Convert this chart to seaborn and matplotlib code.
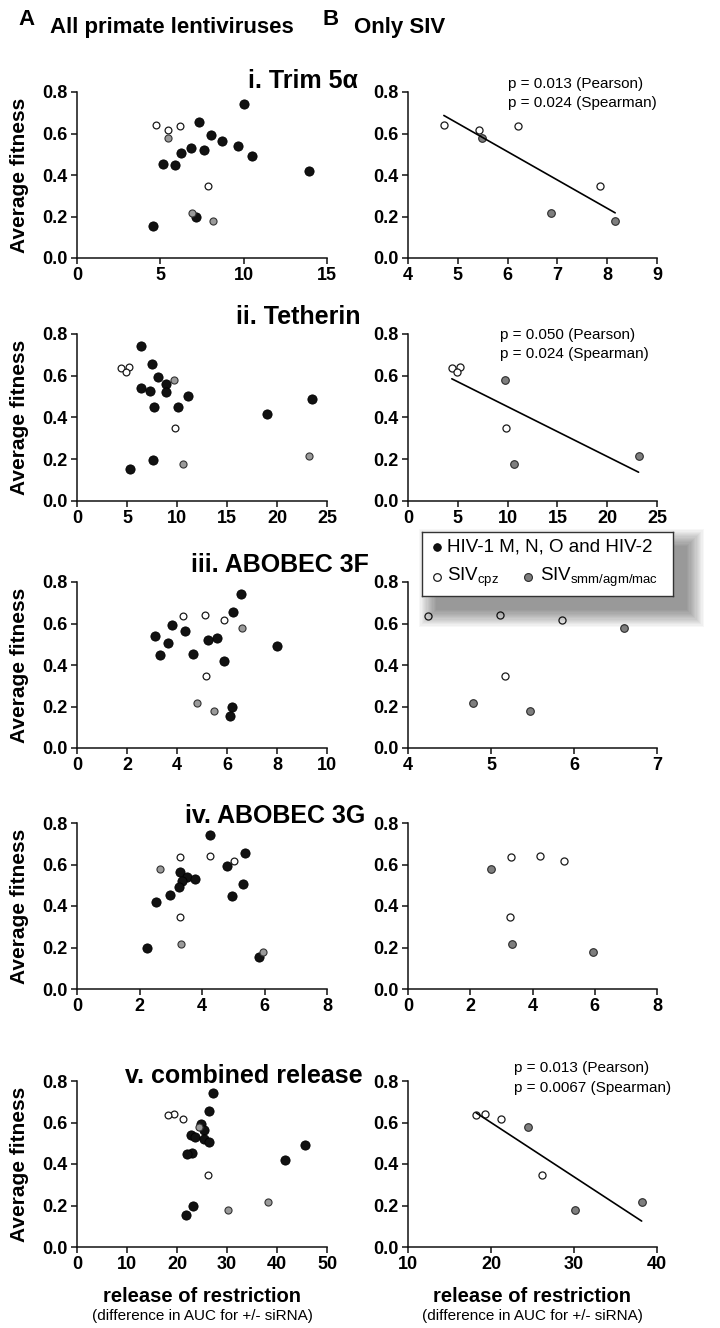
import numpy as np
import pandas as pd
import seaborn as sns
import matplotlib.pyplot as plt
from matplotlib.patches import Rectangle
from matplotlib import font_manager

# Average fitness of each virus (same viruses in every panel), sorted high -> low
hiv_fitness = [0.744, 0.656, 0.595, 0.562, 0.542, 0.528, 0.521, 0.505, 0.491, 0.451, 0.448, 0.419, 0.198, 0.152]
cpz_fitness = [0.641, 0.637, 0.616, 0.349]
smm_fitness = [0.578, 0.217, 0.177]

# Release of restriction per assay, same order as the fitness lists
trim_hiv = [10.02, 7.34, 8.06, 8.72, 9.68, 6.82, 7.60, 6.26, 10.48, 5.14, 5.90, 13.92, 7.16, 4.56]
trim_cpz = [4.72, 6.20, 5.43, 7.85]
trim_smm = [5.48, 6.88, 8.16]

teth_hiv = [6.38, 7.45, 8.05, 8.86, 6.38, 7.32, 8.89, 11.06, 23.53, 7.72, 10.06, 19.02, 7.59, 5.31]
teth_cpz = [5.20, 4.40, 4.90, 9.84]
teth_smm = [9.70, 23.15, 10.60]

a3f_hiv = [6.57, 6.25, 3.80, 4.33, 3.12, 5.60, 5.23, 3.64, 8.01, 4.63, 3.31, 5.86, 6.18, 6.12]
a3f_cpz = [5.11, 4.24, 5.86, 5.17]
a3f_smm = [6.60, 4.78, 5.47]

a3g_hiv = [4.24, 5.36, 4.79, 3.29, 3.52, 3.76, 3.36, 5.32, 3.26, 2.96, 4.96, 2.53, 2.24, 5.82]
a3g_cpz = [4.25, 3.30, 5.02, 3.28]
a3g_smm = [2.66, 3.34, 5.94]

comb_hiv = [27.2, 26.4, 24.8, 25.4, 22.7, 23.6, 25.3, 26.4, 45.5, 22.9, 21.9, 41.6, 23.2, 21.8]
comb_cpz = [19.3, 18.2, 21.15, 26.2]
comb_smm = [24.45, 38.15, 30.15]

panel_titles = ["i. Trim 5α", "ii. Tetherin", "iii. ABOBEC 3F", "iv. ABOBEC 3G", "v. combined release"]
left_xticks = [[0, 5, 10, 15], [0, 5, 10, 15, 20, 25], [0, 2, 4, 6, 8, 10], [0, 2, 4, 6, 8], [0, 10, 20, 30, 40, 50]]
right_xticks = [[4, 5, 6, 7, 8, 9], [0, 5, 10, 15, 20, 25], [4, 5, 6, 7], [0, 2, 4, 6, 8], [10, 20, 30, 40]]
yticks = [0.0, 0.2, 0.4, 0.6, 0.8]
pearson_p = ["0.013", "0.050", None, None, "0.013"]
spearman_p = ["0.024", "0.024", None, None, "0.0067"]

W, H = 720, 1328


def px_box(x0, y0, x1, y1):
    # pixel box (top-left origin) -> figure fraction rect
    return [x0 / W, 1 - y1 / H, (x1 - x0) / W, (y1 - y0) / H]


def make_df(hiv_x, cpz_x, smm_x):
    rows = []
    for x, y in zip(hiv_x, hiv_fitness):
        rows.append({"release": x, "fitness": y, "group": "hiv"})
    for x, y in zip(cpz_x, cpz_fitness):
        rows.append({"release": x, "fitness": y, "group": "cpz"})
    for x, y in zip(smm_x, smm_fitness):
        rows.append({"release": x, "fitness": y, "group": "smm"})
    return pd.DataFrame(rows)


def style_axes(ax, xticks):
    ax.set_xlim(xticks[0], xticks[-1])
    ax.set_ylim(0, 0.8)
    ax.set_xticks(xticks, labels=[str(t) for t in xticks], fontweight="bold", fontsize=13)
    ax.set_yticks(yticks, labels=[f"{t:.1f}" for t in yticks], fontweight="bold", fontsize=13)
    ax.tick_params(direction="out", length=4, width=1.1, pad=2.5, color="#111111")
    sns.despine(ax=ax)
    for side in ["left", "bottom"]:
        ax.spines[side].set_linewidth(1.1)
        ax.spines[side].set_color("#111111")
    ax.set_xlabel("")
    ax.set_ylabel("")


def main():
    sns.set_theme(style="ticks")
    plt.rcParams["font.family"] = ["Liberation Sans", "DejaVu Sans"]
    plt.rcParams["text.color"] = "black"
    plt.rcParams["axes.labelcolor"] = "black"
    plt.rcParams["xtick.color"] = "black"
    plt.rcParams["ytick.color"] = "black"
    plt.rcParams["mathtext.fontset"] = "custom"
    plt.rcParams["mathtext.rm"] = "Liberation Sans"
    plt.rcParams["mathtext.it"] = "Liberation Sans:italic"
    plt.rcParams["mathtext.bf"] = "Liberation Sans:bold"

    installed = {f.name for f in font_manager.fontManager.ttflist}
    if "Liberation Sans Narrow" in installed:
        head_family, head_size = "Liberation Sans Narrow", 18
    else:
        head_family, head_size = "Liberation Sans", 16

    fig = plt.figure(figsize=(7.2, 13.28), dpi=100)

    assays = [
        (trim_hiv, trim_cpz, trim_smm),
        (teth_hiv, teth_cpz, teth_smm),
        (a3f_hiv, a3f_cpz, a3f_smm),
        (a3g_hiv, a3g_cpz, a3g_smm),
        (comb_hiv, comb_cpz, comb_smm),
    ]
    rows_px = [(92, 258), (334, 501), (582, 748), (823, 989), (1081, 1247)]
    title_right = [358, 361, 369, 365, 363]
    title_base = [88, 324, 572, 823, 1083]
    ptext_pos = [(0.40, 1.048, 0.934), (0.37, 0.994, 0.880), None, None, (0.426, 1.078, 0.958)]

    for i, (hiv_x, cpz_x, smm_x) in enumerate(assays):
        df = make_df(hiv_x, cpz_x, smm_x)
        top, bot = rows_px[i]

        # --- A: all primate lentiviruses
        ax = fig.add_axes(px_box(77, top, 327, bot))
        sns.scatterplot(data=df[df.group == "hiv"], x="release", y="fitness", ax=ax,
                        color="#111111", edgecolor="#000000", s=44, linewidth=0.6, legend=False)
        sns.scatterplot(data=df[df.group == "cpz"], x="release", y="fitness", ax=ax,
                        color="white", edgecolor="#1a1a1a", s=24, linewidth=0.9, legend=False)
        sns.scatterplot(data=df[df.group == "smm"], x="release", y="fitness", ax=ax,
                        color="#9a9a9a", edgecolor="#333333", s=26, linewidth=0.8, legend=False)
        style_axes(ax, left_xticks[i])
        ax.set_ylabel("Average fitness", fontsize=15, fontweight="bold")
        ax.yaxis.set_label_coords(-0.192, 0.5)

        fig.text(title_right[i] / W, 1 - title_base[i] / H, panel_titles[i],
                 ha="right", va="baseline", fontsize=18, fontweight="bold")

        # --- B: only SIV
        siv = df[df.group != "hiv"]
        bx = fig.add_axes(px_box(408, top, 657, bot))
        if pearson_p[i] is not None:
            sns.regplot(data=siv, x="release", y="fitness", ax=bx, scatter=False, ci=None,
                        truncate=True, color="black", line_kws={"lw": 1.2})
        sns.scatterplot(data=siv[siv.group == "cpz"], x="release", y="fitness", ax=bx,
                        color="white", edgecolor="#1a1a1a", s=26, linewidth=0.9, legend=False)
        sns.scatterplot(data=siv[siv.group == "smm"], x="release", y="fitness", ax=bx,
                        color="#7e7e7e", edgecolor="#2a2a2a", s=30, linewidth=0.8, legend=False)
        style_axes(bx, right_xticks[i])

        if pearson_p[i] is not None:
            px, py1, py2 = ptext_pos[i]
            bx.text(px, py1, f"p = {pearson_p[i]} (Pearson)", transform=bx.transAxes,
                    fontsize=11, va="center", ha="left")
            bx.text(px, py2, f"p = {spearman_p[i]} (Spearman)", transform=bx.transAxes,
                    fontsize=11, va="center", ha="left")

    # x axis titles under the bottom row
    for cx in [202, 532]:
        fig.text(cx / W, 1 - 1302 / H, "release of restriction", ha="center", va="baseline",
                 fontsize=14.5, fontweight="bold")
        fig.text(cx / W, 1 - 1320 / H, "(difference in AUC for +/- siRNA)", ha="center",
                 va="baseline", fontsize=11)

    # column headers
    fig.text(18 / W, 1 - 25 / H, "A", fontsize=head_size, fontweight="bold",
             family=head_family, va="baseline")
    fig.text(50 / W, 1 - 33 / H, "All primate lentiviruses", fontsize=head_size,
             fontweight="bold", family=head_family, va="baseline")
    fig.text(323 / W, 1 - 25 / H, "B", fontsize=head_size, fontweight="bold",
             family=head_family, va="baseline")
    fig.text(354 / W, 1 - 33 / H, "Only SIV", fontsize=head_size, fontweight="bold",
             family=head_family, va="baseline")

    # legend box with a soft drop shadow (offset down-right)
    lx0, ly0, lx1, ly1 = 422, 532, 673, 596
    for k in range(15):
        g = k * 1.2
        fig.add_artist(Rectangle(((lx0 + 14 - g) / W, 1 - (ly1 + 14 + g) / H),
                                 (lx1 - lx0 + 2 * g) / W, (ly1 - ly0 + 2 * g) / H,
                                 transform=fig.transFigure, facecolor="black",
                                 edgecolor="none", alpha=0.032, zorder=9))
    lax = fig.add_axes(px_box(lx0, ly0, lx1, ly1))
    lax.set_zorder(10)
    lax.set_xlim(0, lx1 - lx0)
    lax.set_ylim(ly1 - ly0, 0)
    lax.set_xticks([])
    lax.set_yticks([])
    lax.set_facecolor("white")
    for sp in lax.spines.values():
        sp.set_visible(True)
        sp.set_color("#333333")
        sp.set_linewidth(1.0)
    lax.scatter([15], [15], s=30, color="#111111", edgecolor="black", linewidth=0.6)
    lax.text(25, 15, "HIV-1 M, N, O and HIV-2", fontsize=13.5, va="center", ha="left")
    lax.scatter([15], [45], s=30, color="white", edgecolor="#1a1a1a", linewidth=0.9)
    lax.text(25, 45, r"SIV$_{\mathrm{cpz}}$", fontsize=13.5, va="center", ha="left")
    lax.scatter([106], [45], s=32, color="#7e7e7e", edgecolor="#2a2a2a", linewidth=0.8)
    lax.text(118, 45, r"SIV$_{\mathrm{smm/agm/mac}}$", fontsize=13.5, va="center", ha="left")

    fig.savefig("out.png", dpi=100, facecolor="white")


if __name__ == "__main__":
    main()
